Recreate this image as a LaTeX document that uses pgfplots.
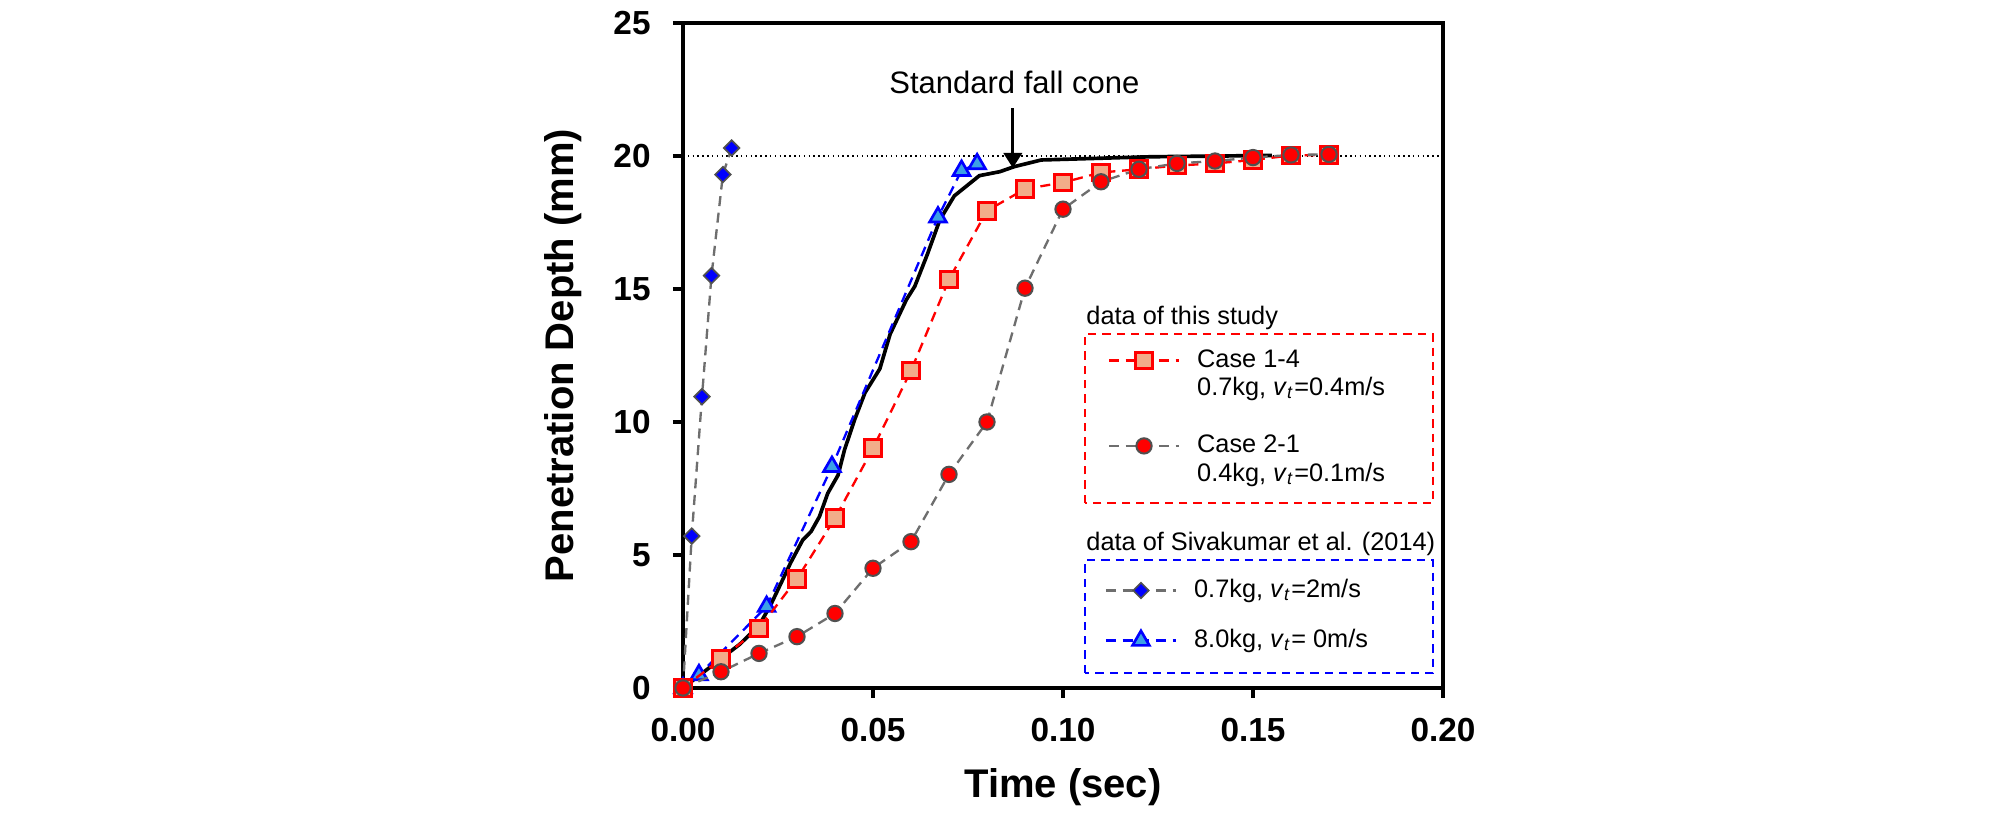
\documentclass[border=0pt]{standalone}
\usepackage{pgfplots}
\pgfplotsset{compat=1.18}
\usepackage{fontspec}
\setmainfont{Liberation Sans}
\usetikzlibrary{arrows.meta}

\definecolor{salmon}{RGB}{242,172,137}
\definecolor{lblue}{RGB}{60,160,230}
\definecolor{dgray}{RGB}{80,80,80}
\definecolor{lgray}{RGB}{110,110,110}

\pgfplotsset{
  base/.style={
    scale only axis, width=228pt, height=199.5pt,
    xmin=0, xmax=0.2, ymin=0, ymax=25,
  },
  mylegend/.style={
    legend cell align=left,
    legend image code/.code={\draw[mark repeat=2,mark phase=2] plot coordinates {(0pt,0pt) (10.5pt,0pt) (21pt,0pt)};},
    legend style={draw=none, fill=none, inner sep=0pt, outer sep=0pt, column sep=4.6pt,
      font=\fontsize{7.6}{9}\selectfont,
      nodes={inner sep=0.5pt, text height=5.8pt, text depth=1.75pt}},
  },
  mydash/.style={dash pattern=on 3pt off 2pt},
}

\begin{document}
\begin{tikzpicture}
\begin{axis}[base, mylegend,
  axis line style={line width=1.2pt},
  tick style={line width=1.2pt, black},
  tick align=outside, major tick length=3pt, tick pos=left,
  xtick={0,0.05,0.1,0.15,0.2}, ytick={0,5,10,15,20,25},
  xticklabel style={/pgf/number format/fixed, /pgf/number format/fixed zerofill, /pgf/number format/precision=2, yshift=-2.4pt},
  yticklabel style={xshift=-3.2pt},
  ticklabel style={font=\bfseries\fontsize{10}{12}\selectfont},
  /pgf/number format/assume math mode=true,
  xlabel={Time (sec)}, ylabel={Penetration Depth (mm)},
  label style={font=\bfseries\fontsize{12}{14}\selectfont},
  xlabel style={at={(axis description cs:0.5,-0.149)}, anchor=center},
  ylabel style={at={(axis description cs:-0.158,0.5)}, anchor=center},
  legend style={at={(rel axis cs:0.555,0.168)}, anchor=north west, row sep=6.45pt},
]
\coordinate (sw) at (rel axis cs:0,0);
\coordinate (ne) at (rel axis cs:1,1);

\addplot[forget plot, black, densely dotted, line width=0.45pt] coordinates {(0,20) (0.2,20)};

\addplot[forget plot, black, line width=1.1pt] coordinates {
(0,0) (0.005,0.55) (0.01,1.1) (0.015,1.65) (0.02,2.35) (0.023,3.1) (0.026,4.0)
(0.0283,4.7) (0.0315,5.56) (0.0337,5.88) (0.0359,6.44) (0.0381,7.32) (0.0408,8.0)
(0.0425,8.95) (0.0452,10.1) (0.0479,11.1) (0.0518,12.0) (0.0545,13.3) (0.0588,14.6)
(0.061,15.1) (0.0643,16.3) (0.0676,17.6) (0.0714,18.5) (0.078,19.26) (0.0834,19.41)
(0.0872,19.6) (0.0943,19.85) (0.123,19.97) (0.155,20.02)};

\addplot[lgray, mydash, line width=0.7pt, mark=square*, mark size=1.65pt,
  mark options={solid, rotate=45, fill=blue, draw=dgray, line width=0.5pt}] coordinates {
(0,0) (0.0023,5.71) (0.005,10.95) (0.0075,15.5) (0.0105,19.3) (0.0128,20.3)};
\addlegendentry{0.7kg, \textit{v}\textsubscript{\textit{t}}=2m/s}

\addplot[blue, mydash, line width=0.7pt, mark=triangle*, mark size=2.9pt,
  mark options={solid, fill=lblue, draw=blue, line width=0.8pt}] coordinates {
(0,0) (0.0042,0.49) (0.022,3.06) (0.0392,8.32) (0.0671,17.7) (0.0733,19.45) (0.0774,19.7)};
\addlegendentry{8.0kg, \textit{v}\textsubscript{\textit{t}}= 0m/s}

\draw[blue, dash pattern=on 2.5pt off 1.8pt, line width=0.6pt] (rel axis cs:0.529,0.0226) rectangle (rel axis cs:0.987,0.192);
\node[anchor=base west, font=\fontsize{7.6}{9}\selectfont, inner sep=0pt] at (rel axis cs:0.530,0.206) {data of Sivakumar et al. (2014)};
\node[anchor=base, font=\fontsize{9.3}{11}\selectfont, inner sep=0pt] at (axis cs:0.0872,22.33) {Standard fall cone};
\draw[-{Triangle[width=5.5pt,length=4.5pt]}, line width=0.9pt] (axis cs:0.0868,21.8) -- (axis cs:0.0868,19.55);
\end{axis}

\begin{axis}[base, hide axis, mylegend,
  legend style={at={(rel axis cs:0.559,0.514)}, anchor=north west, row sep=0pt}]
\addplot[red, mydash, line width=0.7pt, mark=square*, mark size=2.5pt,
  mark options={solid, fill=salmon, draw=red, line width=0.9pt}] coordinates {
(0,0) (0.01,1.09) (0.02,2.24) (0.03,4.1) (0.04,6.38) (0.05,9.01) (0.06,11.93) (0.07,15.36)
(0.08,17.94) (0.09,18.76) (0.10,19.0) (0.11,19.38) (0.12,19.5) (0.13,19.64) (0.14,19.72)
(0.15,19.85) (0.16,20.02) (0.17,20.04)};
\addlegendentry{Case 1-4}
\addlegendimage{empty legend}
\addlegendentry{0.7kg, \textit{v}\textsubscript{\textit{t}}=0.4m/s}
\addlegendimage{empty legend}
\addlegendentry{\phantom{x}}
\addplot[lgray, mydash, line width=0.7pt, mark=*, mark size=2.3pt,
  mark options={solid, fill=red, draw=dgray, line width=0.6pt}] coordinates {
(0,0) (0.01,0.61) (0.02,1.3) (0.03,1.93) (0.04,2.8) (0.05,4.5) (0.06,5.5) (0.07,8.03)
(0.08,10.0) (0.09,15.03) (0.10,18.0) (0.11,19.03) (0.12,19.5) (0.13,19.72) (0.14,19.81)
(0.15,19.94) (0.16,20.04) (0.17,20.06)};
\addlegendentry{Case 2-1}
\addlegendimage{empty legend}
\addlegendentry{0.4kg, \textit{v}\textsubscript{\textit{t}}=0.1m/s}

\draw[red, dash pattern=on 2.5pt off 1.8pt, line width=0.6pt] (rel axis cs:0.529,0.278) rectangle (rel axis cs:0.987,0.532);
\node[anchor=base west, font=\fontsize{7.6}{9}\selectfont, inner sep=0pt] at (rel axis cs:0.530,0.546) {data of this study};
\end{axis}

\pgfresetboundingbox
\useasboundingbox ([shift={(-204.9pt,-37.8pt)}]sw) rectangle ([shift={(169.5pt,6.9pt)}]ne);
\end{tikzpicture}
\end{document}
